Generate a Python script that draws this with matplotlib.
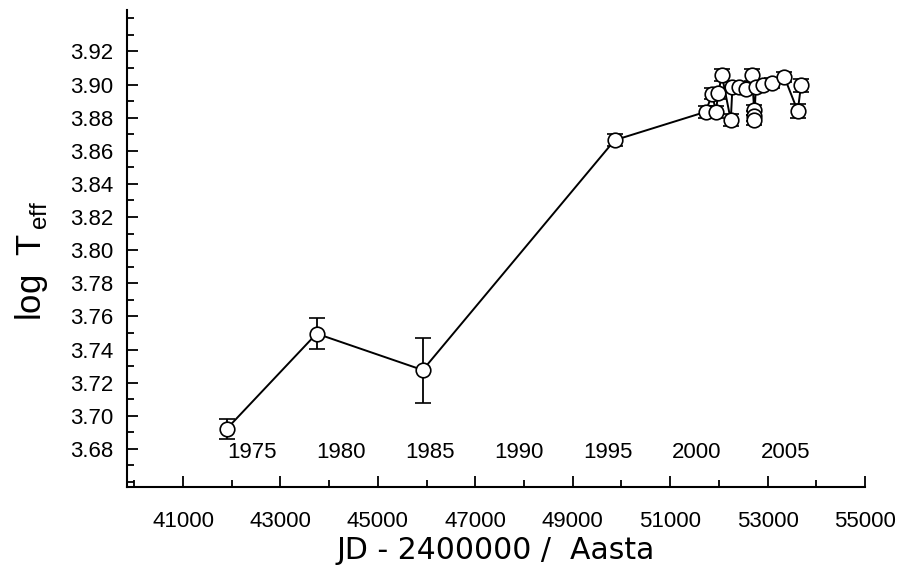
import numpy as np
import matplotlib
matplotlib.use('Agg')
import matplotlib.pyplot as plt
from matplotlib.ticker import MultipleLocator

# JD - 2400000, log Teff, error
jd = [41901, 43742, 45922, 49861,
      51728, 51867, 51935, 51991, 52059, 52245, 52279, 52417, 52553,
      52677, 52726, 52726, 52726, 52760, 52898, 53089, 53345, 53619, 53687]
logt = [3.6922, 3.7496, 3.7276, 3.8664,
        3.8835, 3.8945, 3.8835, 3.8947, 3.9060, 3.8785, 3.8985, 3.8985, 3.8970,
        3.9060, 3.8845, 3.8810, 3.8785, 3.8985, 3.8995, 3.9010, 3.9045, 3.8840, 3.8995]
err = [0.0060, 0.0095, 0.0196, 0.0036,
       0.0035, 0.0035, 0.0035, 0.0035, 0.0036, 0.0035, 0.0030, 0.0030, 0.0030,
       0.0036, 0.0030, 0.0030, 0.0030, 0.0030, 0.0030, 0.0030, 0.0030, 0.0040, 0.0040]

years = ['1975', '1980', '1985', '1990', '1995', '2000', '2005']
year_jd = [42413.5, 44239.5, 46066.5, 47892.5, 49718.5, 51544.5, 53371.5]

plt.rcParams['font.family'] = ['Liberation Sans', 'DejaVu Sans']
plt.rcParams['mathtext.fontset'] = 'custom'
plt.rcParams['mathtext.rm'] = 'Liberation Sans'

fig = plt.figure(figsize=(9, 5.68), dpi=100)
ax = fig.add_axes([0.1411, 0.1426, 0.82, 0.8398])

ax.plot(jd, logt, color='black', lw=1.4, zorder=2)
ax.errorbar(jd, logt, yerr=err, fmt='o', ms=10.5, mfc='white', mec='black',
            mew=1.2, ecolor='black', elinewidth=1.3, capsize=6, capthick=1.5,
            zorder=3)

for y, x in zip(years, year_jd):
    ax.text(x, 3.678, y, ha='center', va='center', fontsize=16)

ax.set_xlim(39850, 55000)
ax.set_ylim(3.657, 3.945)
ax.set_xticks(np.arange(41000, 55001, 2000))
ax.xaxis.set_minor_locator(MultipleLocator(1000))
ax.set_yticks(np.arange(3.68, 3.921, 0.02))
ax.yaxis.set_minor_locator(MultipleLocator(0.01))
ax.yaxis.set_major_formatter(matplotlib.ticker.FormatStrFormatter('%.2f'))

for s in ['top', 'right']:
    ax.spines[s].set_visible(False)
for s in ['left', 'bottom']:
    ax.spines[s].set_linewidth(1.5)

ax.tick_params(which='both', direction='in', width=1.3)
ax.tick_params(which='major', length=8)
ax.tick_params(which='minor', length=5)
ax.tick_params(axis='x', which='major', labelsize=16, pad=17)
ax.tick_params(axis='y', which='major', labelsize=16, pad=10)

ax.set_xlabel('JD - 2400000 /  Aasta', fontsize=21.5, family='DejaVu Sans', labelpad=3)
ax.set_ylabel(r'log  T$_{\rm\,eff}$', fontsize=25)
ax.yaxis.set_label_coords(-0.104, 0.474)

fig.savefig('out.png', dpi=100)
